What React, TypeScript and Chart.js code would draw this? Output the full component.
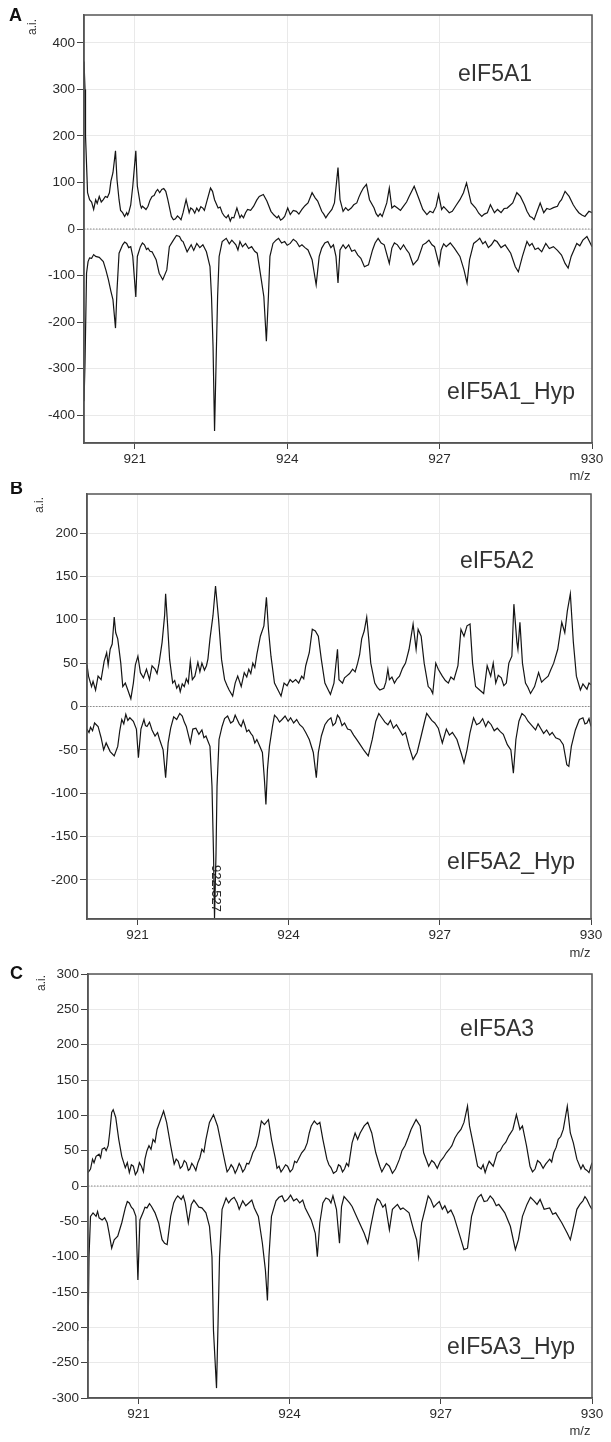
import React, { useEffect, useRef } from "react";
import { Chart, registerables } from "chart.js";
Chart.register(...registerables);

// ---------- tick labels ----------
const xTicks = [921, 924, 927, 930];
const yTicksA = [400, 300, 200, 100, 0, -100, -200, -300, -400];
const yTicksB = [200, 150, 100, 50, 0, -50, -100, -150, -200];
const yTicksC = [300, 250, 200, 150, 100, 50, 0, -50, -100, -150, -200, -250, -300];

// ---------- Panel A: eIF5A1 ----------
const mzA1 = [
  920.00, 920.02, 920.03, 920.07, 920.11, 920.15, 920.19, 920.23, 920.26, 920.30,
  920.34, 920.38, 920.42, 920.46, 920.50, 920.53, 920.57, 920.62, 920.65, 920.69,
  920.72, 920.76, 920.80, 920.84, 920.86, 920.88, 920.92, 920.96, 921.02, 921.05,
  921.11, 921.13, 921.15, 921.19, 921.22, 921.26, 921.30, 921.34, 921.38, 921.42,
  921.45, 921.49, 921.53, 921.57, 921.61, 921.65, 921.72, 921.76, 921.80, 921.84,
  921.88, 921.91, 921.95, 922.01, 922.07, 922.10, 922.14, 922.18, 922.22, 922.26,
  922.30, 922.34, 922.37, 922.41, 922.49, 922.53, 922.57, 922.64, 922.68, 922.72,
  922.76, 922.80, 922.84, 922.88, 922.91, 922.95, 923.01, 923.07, 923.10, 923.14,
  923.18, 923.22, 923.28, 923.34, 923.40, 923.45, 923.53, 923.60, 923.68, 923.74,
  923.80, 923.83, 923.87, 923.91, 923.95, 924.01, 924.06, 924.12, 924.18, 924.23,
  924.29, 924.35, 924.41, 924.49, 924.55, 924.60, 924.68, 924.72, 924.76, 924.80,
  924.83, 924.88, 924.93, 925.00, 925.04, 925.10, 925.15, 925.20, 925.26, 925.31,
  925.37, 925.41, 925.45, 925.50, 925.56, 925.62, 925.71, 925.75, 925.79, 925.83,
  925.87, 925.91, 925.96, 926.01, 926.06, 926.11, 926.17, 926.23, 926.29, 926.35,
  926.40, 926.50, 926.60, 926.67, 926.75, 926.81, 926.87, 926.93, 926.98, 927.04,
  927.08, 927.13, 927.19, 927.25, 927.32, 927.40, 927.47, 927.53, 927.62, 927.71,
  927.77, 927.83, 927.88, 927.94, 928.00, 928.08, 928.14, 928.21, 928.27, 928.33,
  928.38, 928.44, 928.52, 928.59, 928.67, 928.72, 928.78, 928.82, 928.86, 928.92,
  928.98, 929.05, 929.11, 929.17, 929.24, 929.32, 929.36, 929.40, 929.47, 929.55,
  929.63, 929.69, 929.74, 929.80, 929.86, 929.94, 930.00,
];
const intA1 = [
  360, 300, 200, 78, 63, 58, 42, 63, 55, 70,
  58, 63, 70, 68, 78, 103, 121, 168, 106, 63,
  40, 35, 27, 35, 30, 35, 52, 92, 168, 92,
  52, 45, 49, 45, 42, 49, 62, 70, 72, 81,
  85, 78, 85, 87, 81, 63, 27, 20, 22, 28,
  24, 20, 35, 63, 35, 45, 42, 34, 45, 38,
  48, 45, 40, 56, 88, 81, 63, 45, 47, 35,
  28, 24, 30, 17, 25, 24, 45, 24, 30, 24,
  35, 42, 40, 49, 62, 70, 74, 60, 38, 30,
  24, 28, 19, 22, 27, 45, 31, 40, 38, 32,
  42, 50, 56, 78, 67, 60, 38, 32, 24, 31,
  35, 42, 56, 132, 63, 38, 46, 40, 45, 52,
  56, 68, 78, 88, 96, 63, 45, 33, 27, 33,
  27, 40, 56, 88, 45, 50, 45, 40, 49, 58,
  70, 92, 63, 42, 31, 38, 35, 48, 74, 42,
  48, 42, 35, 38, 50, 63, 78, 99, 56, 45,
  34, 27, 32, 35, 52, 35, 42, 35, 44, 45,
  50, 56, 78, 70, 52, 38, 27, 25, 20, 38,
  56, 35, 44, 42, 46, 49, 58, 63, 81, 70,
  52, 42, 35, 30, 27, 38, 35,
];
const mzA1Hyp = [
  920.00, 920.02, 920.05, 920.08, 920.11, 920.15, 920.19, 920.23, 920.30, 920.38,
  920.43, 920.48, 920.53, 920.57, 920.62, 920.65, 920.69, 920.76, 920.80, 920.84,
  920.88, 920.92, 920.96, 921.02, 921.05, 921.11, 921.15, 921.19, 921.23, 921.26,
  921.30, 921.34, 921.42, 921.48, 921.55, 921.63, 921.68, 921.76, 921.82, 921.88,
  921.92, 921.95, 922.03, 922.11, 922.16, 922.22, 922.28, 922.34, 922.41, 922.48,
  922.51, 922.54, 922.57, 922.60, 922.63, 922.66, 922.72, 922.80, 922.86, 922.91,
  922.99, 923.03, 923.07, 923.12, 923.18, 923.24, 923.30, 923.36, 923.41, 923.49,
  923.54, 923.59, 923.63, 923.66, 923.72, 923.78, 923.83, 923.89, 923.95, 924.00,
  924.06, 924.12, 924.18, 924.24, 924.29, 924.35, 924.41, 924.49, 924.57, 924.63,
  924.68, 924.74, 924.80, 924.86, 924.91, 924.96, 925.00, 925.04, 925.10, 925.15,
  925.21, 925.27, 925.33, 925.39, 925.45, 925.52, 925.60, 925.68, 925.73, 925.79,
  925.85, 925.91, 926.01, 926.06, 926.11, 926.17, 926.23, 926.29, 926.35, 926.40,
  926.48, 926.57, 926.67, 926.73, 926.79, 926.85, 926.90, 926.99, 927.03, 927.08,
  927.13, 927.21, 927.29, 927.40, 927.48, 927.54, 927.59, 927.67, 927.73, 927.79,
  927.85, 927.90, 927.96, 928.02, 928.08, 928.13, 928.21, 928.29, 928.40, 928.49,
  928.55, 928.63, 928.72, 928.77, 928.82, 928.88, 928.94, 929.01, 929.09, 929.16,
  929.24, 929.32, 929.40, 929.47, 929.53, 929.59, 929.70, 929.76, 929.82, 929.90,
  929.95, 930.00,
];
const intA1Hyp = [
  -370, -288, -95, -70, -62, -63, -55, -59, -61, -70,
  -88, -109, -134, -152, -213, -131, -52, -34, -28, -31,
  -40, -38, -59, -146, -59, -38, -30, -34, -44, -41,
  -48, -49, -66, -95, -109, -88, -38, -24, -14, -16,
  -25, -27, -49, -34, -46, -31, -40, -34, -49, -81,
  -145, -252, -434, -288, -145, -59, -27, -20, -32, -24,
  -34, -45, -27, -38, -31, -42, -38, -48, -52, -109,
  -145, -241, -145, -59, -31, -24, -20, -30, -27, -35,
  -31, -22, -27, -38, -34, -40, -45, -66, -120, -59,
  -41, -30, -27, -40, -34, -59, -116, -45, -34, -42,
  -34, -48, -45, -56, -63, -81, -77, -45, -30, -20,
  -30, -34, -74, -41, -30, -34, -44, -34, -45, -52,
  -77, -66, -34, -30, -24, -34, -38, -77, -45, -32,
  -38, -30, -41, -59, -88, -116, -66, -31, -26, -20,
  -32, -27, -40, -34, -24, -27, -40, -34, -52, -81,
  -92, -59, -27, -36, -31, -44, -41, -49, -31, -42,
  -38, -46, -56, -74, -84, -59, -31, -36, -24, -16,
  -27, -38,
];

// ---------- Panel B: eIF5A2 ----------
const mzA2 = [
  920.00, 920.03, 920.09, 920.12, 920.17, 920.22, 920.28, 920.34, 920.39, 920.42,
  920.46, 920.50, 920.54, 920.57, 920.61, 920.67, 920.71, 920.76, 920.81, 920.87,
  920.92, 920.96, 921.01, 921.06, 921.12, 921.18, 921.24, 921.29, 921.35, 921.39,
  921.43, 921.49, 921.54, 921.56, 921.60, 921.64, 921.70, 921.74, 921.78, 921.82,
  921.85, 921.89, 921.93, 921.97, 922.01, 922.05, 922.09, 922.14, 922.20, 922.24,
  922.28, 922.33, 922.37, 922.40, 922.44, 922.50, 922.55, 922.61, 922.67, 922.73,
  922.78, 922.82, 922.89, 922.94, 922.99, 923.06, 923.12, 923.17, 923.21, 923.25,
  923.29, 923.33, 923.37, 923.44, 923.51, 923.56, 923.60, 923.65, 923.72, 923.79,
  923.85, 923.91, 923.97, 924.03, 924.08, 924.14, 924.20, 924.26, 924.30, 924.34,
  924.41, 924.47, 924.53, 924.59, 924.65, 924.72, 924.78, 924.83, 924.90, 924.97,
  925.00, 925.07, 925.11, 925.15, 925.21, 925.27, 925.32, 925.37, 925.41, 925.45,
  925.50, 925.55, 925.59, 925.63, 925.71, 925.76, 925.81, 925.89, 925.93, 925.97,
  926.00, 926.05, 926.10, 926.15, 926.20, 926.26, 926.32, 926.39, 926.47, 926.53,
  926.57, 926.63, 926.69, 926.77, 926.82, 926.86, 926.92, 926.97, 927.05, 927.11,
  927.17, 927.22, 927.28, 927.36, 927.42, 927.48, 927.54, 927.60, 927.65, 927.71,
  927.79, 927.87, 927.94, 928.01, 928.06, 928.11, 928.16, 928.22, 928.27, 928.32,
  928.37, 928.43, 928.47, 928.53, 928.55, 928.59, 928.64, 928.70, 928.75, 928.80,
  928.88, 928.96, 929.02, 929.07, 929.15, 929.20, 929.26, 929.34, 929.42, 929.48,
  929.53, 929.59, 929.65, 929.71, 929.79, 929.84, 929.88, 929.92, 929.96, 930.00,
];
const intA2 = [
  48, 35, 23, 29, 19, 35, 31, 52, 62, 48,
  66, 72, 103, 85, 78, 50, 23, 27, 19, 9,
  27, 48, 58, 39, 33, 43, 31, 47, 43, 38,
  50, 74, 105, 130, 93, 54, 27, 30, 21, 25,
  17, 26, 23, 32, 27, 52, 31, 35, 51, 40,
  50, 42, 47, 55, 78, 105, 139, 101, 54, 31,
  24, 19, 12, 27, 35, 23, 39, 34, 43, 38,
  50, 45, 60, 81, 93, 126, 89, 58, 27, 19,
  12, 27, 24, 31, 28, 31, 27, 35, 32, 47,
  62, 89, 87, 81, 54, 27, 20, 14, 27, 66,
  31, 27, 33, 35, 38, 43, 40, 50, 60, 78,
  87, 103, 78, 50, 27, 22, 19, 21, 28, 43,
  31, 34, 27, 32, 35, 44, 50, 66, 95, 66,
  89, 81, 50, 23, 20, 15, 50, 43, 35, 30,
  27, 34, 31, 47, 89, 81, 93, 95, 50, 23,
  19, 15, 47, 35, 50, 27, 36, 33, 24, 27,
  50, 58, 118, 74, 66, 97, 50, 27, 22, 15,
  23, 39, 28, 31, 35, 42, 50, 66, 97, 85,
  110, 130, 74, 35, 19, 26, 23, 20, 27, 25,
];
const mzA2Hyp = [
  920.00, 920.04, 920.07, 920.11, 920.15, 920.22, 920.28, 920.33, 920.38, 920.46,
  920.54, 920.61, 920.65, 920.69, 920.73, 920.77, 920.81, 920.85, 920.92, 920.98,
  921.02, 921.07, 921.13, 921.16, 921.19, 921.24, 921.29, 921.35, 921.40, 921.44,
  921.51, 921.56, 921.61, 921.66, 921.72, 921.78, 921.84, 921.89, 921.93, 921.97,
  922.05, 922.10, 922.16, 922.22, 922.28, 922.32, 922.36, 922.40, 922.44, 922.48,
  922.51, 922.53, 922.56, 922.58, 922.62, 922.68, 922.73, 922.79, 922.85, 922.90,
  922.94, 922.98, 923.02, 923.06, 923.10, 923.13, 923.17, 923.21, 923.25, 923.29,
  923.33, 923.37, 923.43, 923.48, 923.52, 923.55, 923.58, 923.62, 923.68, 923.72,
  923.77, 923.82, 923.87, 923.93, 923.99, 924.04, 924.10, 924.16, 924.22, 924.28,
  924.34, 924.41, 924.49, 924.55, 924.59, 924.65, 924.72, 924.78, 924.84, 924.88,
  924.93, 924.97, 925.01, 925.06, 925.11, 925.17, 925.23, 925.29, 925.35, 925.42,
  925.50, 925.58, 925.66, 925.73, 925.79, 925.85, 925.91, 925.97, 926.02, 926.08,
  926.14, 926.20, 926.26, 926.32, 926.39, 926.47, 926.55, 926.63, 926.70, 926.74,
  926.78, 926.84, 926.90, 926.97, 927.05, 927.13, 927.19, 927.25, 927.34, 927.42,
  927.48, 927.54, 927.60, 927.67, 927.73, 927.79, 927.85, 927.91, 927.96, 928.02,
  928.08, 928.14, 928.20, 928.26, 928.34, 928.41, 928.46, 928.51, 928.57, 928.63,
  928.69, 928.75, 928.81, 928.90, 928.95, 929.00, 929.06, 929.12, 929.18, 929.23,
  929.30, 929.38, 929.45, 929.52, 929.56, 929.61, 929.69, 929.77, 929.84, 929.88,
  929.92, 929.96, 930.00,
];
const intA2Hyp = [
  -26, -30, -24, -28, -19, -23, -36, -50, -42, -52,
  -57, -46, -28, -15, -20, -9, -16, -13, -17, -26,
  -59, -26, -15, -22, -23, -18, -27, -34, -30, -38,
  -50, -82, -42, -25, -12, -15, -8, -11, -18, -23,
  -42, -26, -25, -32, -27, -36, -34, -40, -46, -92,
  -169, -244, -169, -92, -38, -23, -14, -11, -19, -17,
  -10, -15, -20, -23, -16, -21, -29, -27, -31, -34,
  -42, -38, -46, -53, -84, -113, -73, -46, -23, -10,
  -13, -18, -15, -11, -17, -13, -19, -15, -21, -24,
  -30, -38, -53, -82, -53, -34, -21, -16, -13, -22,
  -19, -10, -13, -22, -19, -26, -27, -33, -38, -44,
  -51, -57, -38, -17, -8, -13, -18, -21, -16, -25,
  -21, -27, -33, -30, -46, -61, -53, -34, -17, -8,
  -11, -16, -19, -25, -42, -26, -33, -30, -38, -53,
  -65, -50, -30, -13, -21, -19, -14, -23, -17, -21,
  -28, -25, -29, -32, -44, -50, -77, -38, -17, -8,
  -11, -17, -21, -27, -20, -25, -31, -27, -33, -30,
  -36, -38, -44, -67, -69, -46, -27, -15, -13, -20,
  -19, -14, -23,
];
const peakLabelMz = 922.527;
const peakLabelText = "922.527";

// ---------- Panel C: eIF5A3 ----------
const mzA3 = [
  920.00, 920.05, 920.09, 920.12, 920.16, 920.22, 920.25, 920.28, 920.33, 920.36,
  920.40, 920.43, 920.47, 920.50, 920.55, 920.61, 920.67, 920.74, 920.78, 920.82,
  920.86, 920.90, 920.94, 920.98, 921.02, 921.06, 921.10, 921.13, 921.17, 921.21,
  921.25, 921.29, 921.33, 921.37, 921.44, 921.50, 921.56, 921.64, 921.71, 921.75,
  921.79, 921.83, 921.87, 921.91, 921.95, 921.99, 922.02, 922.06, 922.10, 922.14,
  922.18, 922.22, 922.26, 922.30, 922.34, 922.41, 922.49, 922.57, 922.65, 922.72,
  922.76, 922.80, 922.84, 922.88, 922.92, 922.96, 923.00, 923.03, 923.07, 923.11,
  923.15, 923.19, 923.23, 923.27, 923.31, 923.34, 923.39, 923.44, 923.50, 923.58,
  923.64, 923.72, 923.75, 923.79, 923.83, 923.87, 923.92, 923.96, 924.01, 924.06,
  924.10, 924.14, 924.19, 924.24, 924.30, 924.35, 924.39, 924.43, 924.49, 924.55,
  924.60, 924.66, 924.74, 924.78, 924.82, 924.87, 924.93, 924.97, 925.01, 925.05,
  925.09, 925.13, 925.17, 925.24, 925.30, 925.35, 925.40, 925.48, 925.55, 925.63,
  925.71, 925.79, 925.83, 925.86, 925.92, 925.98, 926.04, 926.10, 926.18, 926.23,
  926.29, 926.35, 926.41, 926.51, 926.59, 926.66, 926.76, 926.82, 926.87, 926.93,
  926.99, 927.05, 927.11, 927.17, 927.22, 927.28, 927.34, 927.40, 927.46, 927.53,
  927.57, 927.65, 927.73, 927.80, 927.84, 927.88, 927.92, 927.96, 928.04, 928.12,
  928.18, 928.23, 928.29, 928.35, 928.43, 928.50, 928.57, 928.62, 928.70, 928.77,
  928.82, 928.87, 928.92, 928.97, 929.03, 929.08, 929.16, 929.20, 929.24, 929.29,
  929.33, 929.38, 929.43, 929.51, 929.57, 929.63, 929.70, 929.78, 929.82, 929.86,
  929.90, 929.94, 930.00,
];
const intA3 = [
  19, 24, 38, 33, 42, 45, 40, 52, 54, 50,
  57, 75, 104, 108, 97, 66, 42, 26, 33, 19,
  30, 28, 16, 21, 33, 28, 20, 38, 50, 57,
  52, 66, 62, 80, 94, 106, 90, 57, 31, 38,
  35, 25, 28, 36, 33, 22, 24, 32, 28, 22,
  33, 40, 52, 48, 66, 90, 101, 85, 57, 33,
  20, 24, 30, 26, 18, 24, 32, 28, 20, 24,
  32, 31, 38, 47, 52, 57, 72, 92, 87, 94,
  66, 38, 25, 28, 20, 24, 30, 28, 20, 24,
  35, 33, 40, 47, 52, 61, 75, 85, 92, 87,
  90, 66, 38, 30, 26, 18, 21, 30, 28, 20,
  24, 32, 28, 61, 75, 66, 75, 85, 90, 75,
  47, 28, 20, 24, 32, 28, 18, 24, 38, 50,
  57, 68, 80, 94, 85, 47, 28, 36, 33, 25,
  35, 40, 47, 52, 57, 68, 75, 80, 90, 113,
  85, 57, 28, 24, 30, 19, 28, 35, 28, 47,
  50, 57, 62, 71, 80, 101, 80, 85, 57, 28,
  20, 24, 36, 33, 25, 31, 38, 34, 47, 55,
  66, 70, 80, 113, 75, 61, 38, 24, 30, 24,
  22, 19, 33,
];
const mzA3Hyp = [
  920.00, 920.02, 920.05, 920.10, 920.16, 920.19, 920.22, 920.28, 920.33, 920.38,
  920.42, 920.47, 920.52, 920.59, 920.67, 920.74, 920.78, 920.82, 920.86, 920.90,
  920.95, 920.99, 921.03, 921.09, 921.13, 921.17, 921.22, 921.26, 921.33, 921.40,
  921.47, 921.52, 921.57, 921.64, 921.70, 921.74, 921.78, 921.85, 921.89, 921.93,
  921.99, 922.05, 922.10, 922.14, 922.20, 922.26, 922.34, 922.41, 922.46, 922.49,
  922.55, 922.58, 922.61, 922.66, 922.74, 922.79, 922.84, 922.90, 922.96, 923.00,
  923.07, 923.13, 923.19, 923.25, 923.30, 923.38, 923.46, 923.52, 923.56, 923.59,
  923.64, 923.73, 923.79, 923.85, 923.90, 923.96, 924.02, 924.08, 924.14, 924.20,
  924.26, 924.31, 924.43, 924.51, 924.55, 924.60, 924.66, 924.72, 924.78, 924.82,
  924.86, 924.93, 924.99, 925.03, 925.08, 925.13, 925.19, 925.24, 925.36, 925.48,
  925.55, 925.61, 925.69, 925.74, 925.79, 925.85, 925.90, 925.98, 926.04, 926.14,
  926.20, 926.25, 926.37, 926.46, 926.52, 926.56, 926.62, 926.70, 926.75, 926.80,
  926.86, 926.91, 926.97, 927.03, 927.08, 927.14, 927.20, 927.26, 927.38, 927.46,
  927.53, 927.61, 927.69, 927.74, 927.80, 927.86, 927.92, 927.98, 928.04, 928.10,
  928.15, 928.27, 928.38, 928.48, 928.54, 928.62, 928.71, 928.78, 928.85, 928.91,
  928.97, 929.05, 929.16, 929.22, 929.28, 929.40, 929.51, 929.57, 929.63, 929.70,
  929.76, 929.82, 929.86, 929.90, 929.95, 930.00,
];
const intA3Hyp = [
  -219, -100, -43, -38, -43, -36, -45, -48, -45, -52,
  -67, -88, -76, -71, -52, -31, -22, -24, -30, -33,
  -43, -133, -48, -38, -30, -31, -25, -29, -38, -52,
  -76, -81, -83, -43, -24, -18, -14, -19, -14, -24,
  -52, -26, -20, -24, -30, -31, -38, -57, -100, -205,
  -286, -195, -100, -33, -17, -24, -19, -16, -24, -33,
  -21, -28, -24, -20, -31, -43, -81, -119, -162, -100,
  -43, -21, -16, -14, -22, -19, -13, -21, -18, -24,
  -20, -31, -48, -67, -100, -52, -24, -17, -19, -24,
  -14, -33, -81, -29, -15, -19, -24, -29, -48, -67,
  -81, -57, -29, -18, -21, -30, -26, -62, -33, -26,
  -33, -31, -38, -62, -76, -100, -52, -29, -14, -19,
  -30, -26, -22, -33, -28, -38, -34, -43, -71, -90,
  -88, -43, -24, -16, -12, -22, -21, -14, -19, -28,
  -26, -38, -57, -90, -76, -43, -26, -16, -21, -26,
  -19, -33, -31, -40, -38, -52, -67, -76, -57, -33,
  -26, -21, -15, -19, -27, -33,
];

const FONT = 'Arial, "Liberation Sans", Helvetica, sans-serif';

type PanelDef = {
  letter: string;
  top: number;
  height: number;
  chartTop: number;
  chartBottom: number;
  left: number;
  right: number;
  yMax: number;
  yTicks: number[];
  mzUp: number[];
  intUp: number[];
  mzDown: number[];
  intDown: number[];
  nameUp: string;
  nameDown: string;
  letterPos: [number, number];
  aiPos: [number, number];
  nameUpPos: [number, number];
  nameDownPos: [number, number];
  mzLabelY: number;
  peakLabel?: { mz: number; text: string; yStart: number };
};

const panels: PanelDef[] = [
  {
    letter: "A", top: 0, height: 482, chartTop: 15, chartBottom: 443, left: 84, right: 592,
    yMax: 460, yTicks: yTicksA, mzUp: mzA1, intUp: intA1, mzDown: mzA1Hyp, intDown: intA1Hyp,
    nameUp: "eIF5A1", nameDown: "eIF5A1_Hyp",
    letterPos: [9, 16], aiPos: [33, 27], nameUpPos: [495, 75], nameDownPos: [511, 393], mzLabelY: 476,
  },
  {
    letter: "B", top: 482, height: 480, chartTop: 494, chartBottom: 919, left: 87, right: 591,
    yMax: 245, yTicks: yTicksB, mzUp: mzA2, intUp: intA2, mzDown: mzA2Hyp, intDown: intA2Hyp,
    nameUp: "eIF5A2", nameDown: "eIF5A2_Hyp",
    letterPos: [10, 489], aiPos: [40, 505], nameUpPos: [497, 562], nameDownPos: [511, 863], mzLabelY: 953,
    peakLabel: { mz: peakLabelMz, text: peakLabelText, yStart: 865 },
  },
  {
    letter: "C", top: 962, height: 480, chartTop: 974, chartBottom: 1398, left: 88, right: 592,
    yMax: 300, yTicks: yTicksC, mzUp: mzA3, intUp: intA3, mzDown: mzA3Hyp, intDown: intA3Hyp,
    nameUp: "eIF5A3", nameDown: "eIF5A3_Hyp",
    letterPos: [10, 974], aiPos: [42, 983], nameUpPos: [497, 1030], nameDownPos: [511, 1348], mzLabelY: 1431,
  },
];

function toPoints(mz: number[], it: number[]) {
  const n = Math.min(mz.length, it.length);
  const out: { x: number; y: number }[] = [];
  for (let i = 0; i < n; i++) out.push({ x: mz[i], y: it[i] });
  return out;
}

function SpectrumPanel({ p }: { p: PanelDef }) {
  const ref = useRef<HTMLCanvasElement>(null);
  useEffect(() => {
    if (!ref.current) return;
    const off = p.top;
    const overlay = {
      id: "overlay" + p.letter,
      beforeDatasetsDraw(chart: any) {
        const { ctx, chartArea: a, scales } = chart;
        const y0 = scales.y.getPixelForValue(0);
        ctx.save();
        ctx.strokeStyle = "#8c8c8c";
        ctx.lineWidth = 1;
        ctx.setLineDash([1.5, 1.5]);
        ctx.beginPath();
        ctx.moveTo(a.left, y0);
        ctx.lineTo(a.right, y0);
        ctx.stroke();
        ctx.restore();
      },
      afterDraw(chart: any) {
        const { ctx, chartArea: a, scales } = chart;
        ctx.save();
        ctx.strokeStyle = "#555";
        ctx.lineWidth = 1.5;
        ctx.strokeRect(a.left, a.top, a.right - a.left, a.bottom - a.top);

        ctx.fillStyle = "#111";
        ctx.textBaseline = "middle";
        ctx.textAlign = "left";
        ctx.font = `bold 18px ${FONT}`;
        ctx.fillText(p.letter, p.letterPos[0], p.letterPos[1] - off);

        ctx.fillStyle = "#333";
        ctx.textAlign = "center";
        ctx.font = `23px ${FONT}`;
        ctx.fillText(p.nameUp, p.nameUpPos[0], p.nameUpPos[1] - off);
        ctx.fillText(p.nameDown, p.nameDownPos[0], p.nameDownPos[1] - off);

        ctx.font = `13px ${FONT}`;
        ctx.fillText("m/z", 580, p.mzLabelY - off);

        ctx.save();
        ctx.font = `12px ${FONT}`;
        ctx.translate(p.aiPos[0], p.aiPos[1] - off);
        ctx.rotate(-Math.PI / 2);
        ctx.fillText("a.i.", 0, 0);
        ctx.restore();

        if (p.peakLabel) {
          ctx.save();
          ctx.beginPath();
          ctx.rect(a.left, a.top, a.right - a.left, a.bottom - a.top);
          ctx.clip();
          const px = scales.x.getPixelForValue(p.peakLabel.mz) + 1.5;
          ctx.translate(px, p.peakLabel.yStart - off);
          ctx.rotate(Math.PI / 2);
          ctx.font = `13px ${FONT}`;
          ctx.fillStyle = "#222";
          ctx.textAlign = "left";
          ctx.textBaseline = "middle";
          ctx.fillText(p.peakLabel.text, 0, 0);
          ctx.restore();
        }
        ctx.restore();
      },
    };

    const tickFont = { family: FONT, size: 13.5 };
    const chart = new Chart(ref.current, {
      type: "line",
      data: {
        datasets: [
          {
            data: toPoints(p.mzUp, p.intUp),
            borderColor: "#151515",
            borderWidth: 1.2,
            pointRadius: 0,
            tension: 0,
            fill: false,
          },
          {
            data: toPoints(p.mzDown, p.intDown),
            borderColor: "#151515",
            borderWidth: 1.2,
            pointRadius: 0,
            tension: 0,
            fill: false,
          },
        ],
      },
      options: {
        animation: false,
        responsive: false,
        maintainAspectRatio: false,
        events: [],
        layout: { padding: { top: p.chartTop - p.top, right: 611 - p.right, bottom: 0, left: 0 } },
        plugins: { legend: { display: false }, tooltip: { enabled: false }, title: { display: false } },
        scales: {
          x: {
            type: "linear",
            min: 920,
            max: 930,
            afterBuildTicks: (s: any) => {
              s.ticks = xTicks.map((v) => ({ value: v }));
            },
            afterFit: (s: any) => {
              s.height = p.top + p.height - p.chartBottom;
            },
            grid: { color: "#e9e9e9", lineWidth: 1, tickColor: "#444", tickLength: 6, tickWidth: 1 },
            border: { display: true, color: "#555", width: 1.5 },
            ticks: {
              color: "#2a2a2a",
              font: tickFont,
              padding: 2,
              maxRotation: 0,
              autoSkip: false,
              callback: (v: any) => String(v),
            },
          },
          y: {
            type: "linear",
            min: -p.yMax,
            max: p.yMax,
            afterBuildTicks: (s: any) => {
              s.ticks = p.yTicks.map((v) => ({ value: v }));
            },
            afterFit: (s: any) => {
              s.width = p.left;
            },
            grid: { color: "#e9e9e9", lineWidth: 1, tickColor: "#444", tickLength: 7, tickWidth: 1 },
            border: { display: true, color: "#555", width: 1.5 },
            ticks: {
              color: "#2a2a2a",
              font: tickFont,
              padding: 2,
              autoSkip: false,
              callback: (v: any) => String(v),
            },
          },
        },
      },
      plugins: [overlay],
    } as any);
    return () => chart.destroy();
  }, [p]);

  return (
    <canvas
      ref={ref}
      width={611}
      height={p.height}
      style={{ position: "absolute", left: 0, top: p.top, width: 611, height: p.height, display: "block" }}
    />
  );
}

export default function App() {
  return (
    <div style={{ position: "absolute", left: 0, top: 0, width: 611, height: 1442, background: "#fff", overflow: "hidden" }}>
      {panels.map((p) => (
        <SpectrumPanel key={p.letter} p={p} />
      ))}
    </div>
  );
}
